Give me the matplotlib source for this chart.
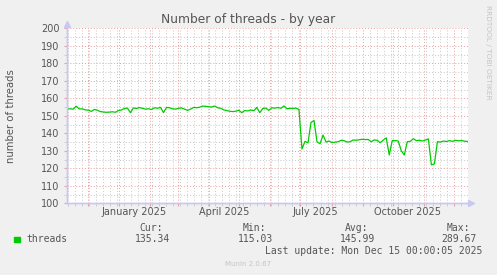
import datetime as dt
import matplotlib
matplotlib.use("Agg")
import matplotlib.pyplot as plt
import matplotlib.dates as mdates
from matplotlib.patches import Rectangle
from matplotlib.lines import Line2D
import pandas as pd

# threads, one sample every 3 days starting 2024-11-10
threads = [
    153.9, 154.0, 153.8, 155.5, 153.9, 154.0, 153.4, 153.2, 152.5, 153.6,
    153.2, 152.4, 152.2, 152.0, 152.1, 152.3, 152.0, 153.0, 153.3, 154.2,
    154.4, 151.8, 154.5, 154.2, 154.7, 154.3, 153.8, 154.0, 153.6, 154.6,
    154.3, 154.8, 151.8, 154.8, 154.6, 154.0, 153.8, 154.3, 154.5, 153.8,
    153.1, 153.8, 154.8, 154.6, 154.9, 155.6, 155.4, 155.2, 155.0, 155.6,
    154.6, 154.3, 153.4, 153.0, 152.6, 152.4, 152.6, 153.2, 151.8, 153.0,
    152.8, 153.3, 152.9, 154.8, 151.8, 154.2, 154.4, 153.1, 154.6, 154.4,
    154.7, 154.3, 155.6, 154.0, 154.3, 154.2, 154.4, 153.6, 131.0, 135.4,
    134.5, 146.2, 147.3, 135.2, 134.0, 139.0, 135.0, 135.6, 134.7, 134.9,
    135.2, 136.0, 135.8, 135.0, 135.2, 136.2, 136.0, 136.3, 136.6, 136.4,
    136.5, 135.2, 136.2, 136.0, 134.6, 136.1, 137.4, 127.6, 135.8, 135.8,
    135.6, 130.0, 127.6, 135.2, 135.4, 136.9, 135.8, 136.0, 135.6, 136.1,
    136.8, 122.0, 122.5, 135.2, 135.0, 135.6, 135.3, 135.8, 135.4, 136.0,
    135.7, 135.9, 135.5, 135.34,
]
dates = pd.date_range("2024-11-10 12:00", periods=len(threads), freq="3D")

label_dates = [dt.datetime(2025, 1, 16), dt.datetime(2025, 4, 16),
               dt.datetime(2025, 7, 16), dt.datetime(2025, 10, 16)]
label_texts = ["January 2025", "April 2025", "July 2025", "October 2025"]

stat_names = ["Cur:", "Min:", "Avg:", "Max:"]
stat_values = [135.34, 115.03, 145.99, 289.67]

W, H = 497, 275
BG = "#f0f0f0"
TXT = "#555555"
AXC = "#c8c8f4"
MAJ = "#e8a0a0"
MIN = "#c8c8c8"


def px(x, y):
    return x / W, 1 - y / H


fig = plt.figure(figsize=(W / 100, H / 100), dpi=100, facecolor=BG)
ax = fig.add_axes([66.7 / W, 1 - 203.3 / H, (468 - 66.7) / W, 175 / H])
ax.set_facecolor("white")

ax.plot(dates, threads, color="#00cc00", lw=0.9, zorder=3)

ax.set_xlim(dt.datetime(2024, 11, 10), dt.datetime(2025, 12, 15))
ax.set_ylim(100, 200)

ax.xaxis.set_major_locator(mdates.MonthLocator())
ax.xaxis.set_minor_locator(mdates.WeekdayLocator(byweekday=mdates.MO))
ax.set_yticks(range(100, 201, 10))
ax.set_yticks(range(105, 200, 10), minor=True)
ax.set_xticklabels([])

ax.grid(which="minor", color=MIN, ls=(0, (1, 2)), lw=0.7)
ax.grid(which="major", color=MAJ, ls=(0, (1, 2)), lw=0.7)
ax.set_axisbelow(True)

ax.tick_params(axis="y", which="major", length=2, pad=3, labelsize=7,
               labelcolor=TXT, color=MAJ)
ax.tick_params(axis="y", which="minor", length=2, color=MIN)
ax.tick_params(axis="x", which="major", length=2, color=MAJ)
ax.tick_params(axis="x", which="minor", length=2, color=MIN)

for s in ["top", "right"]:
    ax.spines[s].set_visible(False)
for s in ["left", "bottom"]:
    ax.spines[s].set_color(AXC)
    ax.spines[s].set_linewidth(1)

for d, t in zip(label_dates, label_texts):
    ax.text(d, -0.05, t, transform=ax.get_xaxis_transform(), ha="center",
            va="center", fontsize=7, color=TXT)

# axis arrows
fig.add_artist(Line2D([66.7 / W, 66.7 / W], [1 - 203.3 / H, 1 - 24 / H],
                      color=AXC, lw=1))
fig.add_artist(Line2D([66.7 / W, 470 / W], [1 - 203.3 / H, 1 - 203.3 / H],
                      color=AXC, lw=1))
fig.add_artist(Line2D([66.7 / W], [1 - 23.5 / H], marker="^", ms=4.5,
                      color=AXC, ls="none"))
fig.add_artist(Line2D([470.5 / W], [1 - 203.3 / H], marker=">", ms=4.5,
                      color=AXC, ls="none"))

fig.text(*px(248, 19), "Number of threads - by year", ha="center", va="center",
         fontsize=8.8, color=TXT)
fig.text(*px(11, 115.8), "number of threads", rotation=90, ha="center",
         va="center", fontsize=7.3, color=TXT)
fig.text(*px(488, 5), "RRDTOOL / TOBI OETIKER", rotation=270, ha="center",
         va="top", fontsize=5.3, color="#c4c4c4")

# legend
mono = "DejaVu Sans Mono"
fig.add_artist(Rectangle(px(14, 242.3), 6 / W, 5.8 / H,
                         transform=fig.transFigure, color="#00cc00"))
fig.text(*px(26.7, 239.3), "threads", ha="left", va="center", fontsize=7,
         family=mono, color=TXT)
for x, name, val in zip([163, 266, 368.5, 470], stat_names, stat_values):
    fig.text(*px(x, 227.7), name, ha="right", va="center", fontsize=7,
             family=mono, color=TXT)
    fig.text(*px(x + 7, 239.3), f"{val:.2f}", ha="right", va="center",
             fontsize=7, family=mono, color=TXT)
fig.text(*px(482.5, 251), "Last update: Mon Dec 15 00:00:05 2025", ha="right",
         va="center", fontsize=7, family=mono, color=TXT)
fig.text(*px(248, 264.3), "Munin 2.0.67", ha="center", va="center",
         fontsize=5, color="#c4c4c4")

fig.savefig("out.png", dpi=100, facecolor=BG)
